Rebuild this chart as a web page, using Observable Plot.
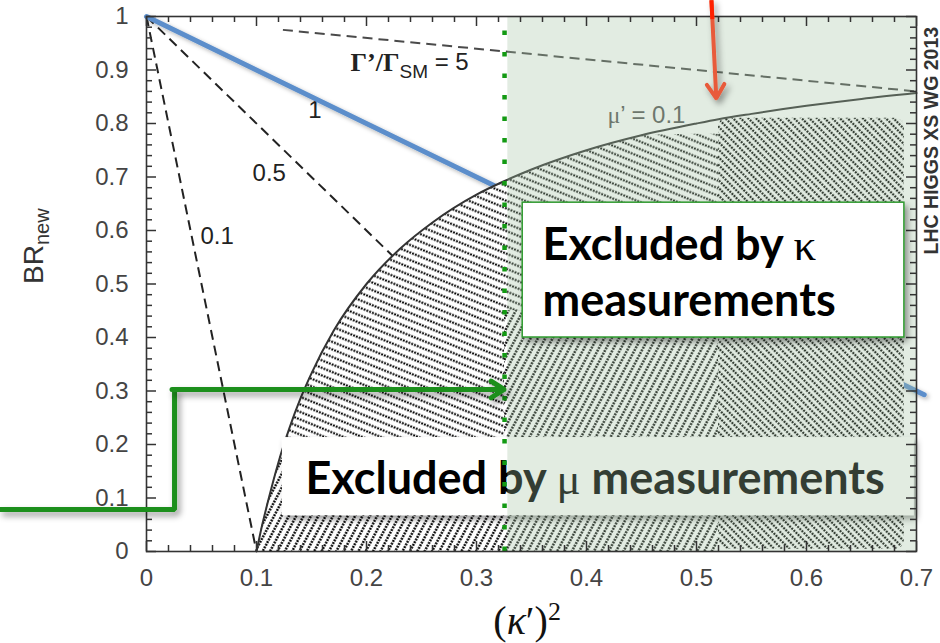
<!DOCTYPE html>
<html><head><meta charset="utf-8">
<script src="https://cdn.jsdelivr.net/npm/d3@7"></script>
<script src="https://cdn.jsdelivr.net/npm/@observablehq/plot@0.6"></script>
<style>body{margin:0;background:#fff} #chart svg{display:block}</style>
</head><body><div id="chart"></div>
<script>
// ---- data ----
const xTicks = [0, 0.1, 0.2, 0.3, 0.4, 0.5, 0.6, 0.7];
const xTickLabels = ["0", "0.1", "0.2", "0.3", "0.4", "0.5", "0.6", "0.7"];
const yTicks = [0, 0.1, 0.2, 0.3, 0.4, 0.5, 0.6, 0.7, 0.8, 0.9, 1];
const yTickLabels = ["0", "0.1", "0.2", "0.3", "0.4", "0.5", "0.6", "0.7", "0.8", "0.9", "1"];

// mu' = 0.1 contour: (kappa'^2, BR_new)
const muCurveX = [0.1, 0.105, 0.11, 0.12, 0.13, 0.14, 0.15, 0.17, 0.2, 0.23, 0.26, 0.3, 0.325, 0.35, 0.4, 0.45, 0.5, 0.52, 0.55, 0.6, 0.65, 0.7];
const muCurveY = [0, 0.048, 0.09, 0.167, 0.231, 0.286, 0.333, 0.412, 0.5, 0.565, 0.615, 0.667, 0.692, 0.714, 0.75, 0.778, 0.8, 0.808, 0.818, 0.833, 0.846, 0.857];

// Gamma'/Gamma_SM dashed lines (start / end points)
const gammaNames = ["0.1", "0.5", "1", "5"];
const gammaX1 = [0, 0, 0, 0.124];
const gammaY1 = [1, 1, 1, 0.975];
const gammaX2 = [0.1, 0.225, 0.32, 0.7];
const gammaY2 = [0, 0.55, 0.68, 0.86];

// highlighted (blue) line
const blueX = [0, 0.707];
const blueY = [1, 0.293];

// kappa exclusion boundary
const kappaLimit = 0.3255;

// annotation anchors in data units
const gammaLabelX = [0.049, 0.0964, 0.147, 0.1855];
const gammaLabelY = [0.59, 0.7065, 0.824, 0.912];
const kBox = {x1: 0.342, x2: 0.689, y1: 0.4, y2: 0.652};
const mBox = {x1: 0.1236, x2: 0.698, y1: 0.067, y2: 0.213};
const greenArrowX = [-0.134, 0.0255, 0.0255];
const greenArrowY = [0.0785, 0.0785, 0.303];
const greenArrowTip = [0.325, 0.303];
const redArrow = {x1: 0.5136, y1: 1.03, x2: 0.518, y2: 0.847};

// ---- derived tables ----
const curve = muCurveX.map((x, i) => ({x, y: muCurveY[i]}));
const gammaLines = gammaNames.map((r, i) => ({r, x1: gammaX1[i], y1: gammaY1[i], x2: gammaX2[i], y2: gammaY2[i]}));
const gammaLabels = gammaNames.map((r, i) => ({r, x: gammaLabelX[i], y: gammaLabelY[i]}));
const hatchS = curve.filter(d => d.x <= 0.52).map(d => ({x: d.x, y1: Math.min(d.y, 0.2), y2: Math.min(d.y, 0.78)}));
const hatchT = curve.filter(d => d.x <= 0.52).map(d => ({x: d.x, y1: 0, y2: Math.min(d.y, 0.2)}));
const blue = blueX.map((x, i) => ({x, y: blueY[i]}));
const gArrow = greenArrowX.map((x, i) => ({x, y: greenArrowY[i]}));

const xMinor = d3.range(0, 0.7001, 0.02);
const yMinor = d3.range(0, 1.0001, 0.02);
const pxY = 1 / 535, pxX = 0.7 / 770;
const isMajor = d => Math.abs(d * 10 - Math.round(d * 10)) < 1e-6;
const BOLD = "Lato, 'Open Sans', sans-serif";
const BOXFONT = 45;

const plot = Plot.plot({
  width: 940, height: 643,
  marginLeft: 146, marginRight: 24, marginTop: 16, marginBottom: 92,
  x: {domain: [0, 0.7], axis: null},
  y: {domain: [0, 1], axis: null},
  style: {fontFamily: "'Liberation Sans', Arial, sans-serif", background: "white", overflow: "visible"},
  marks: [
    // dashed Gamma lines
    Plot.link(gammaLines, {x1: "x1", y1: "y1", x2: "x2", y2: "y2", stroke: d => d.r === "5" ? "#4a4a4a" : "#222", strokeWidth: 2, strokeDasharray: "10,6"}),
    Plot.text(gammaLabels, {x: "x", y: "y", text: d => d.r === "5" ? "§G" : d.r, textAnchor: "start", fontSize: 24, fill: "#222"}),
    // blue line
    Plot.line(blue, {x: "x", y: "y", stroke: "#5b8ecb", strokeWidth: 5}),
    // hatched areas
    Plot.areaY(hatchS, {x: "x", y1: "y1", y2: "y2", fill: "url(#hatchS)", curve: "linear"}),
    Plot.areaY(hatchT, {x: "x", y1: "y1", y2: "y2", fill: "url(#hatchT)", curve: "linear"}),
    Plot.rect([{x1: kappaLimit, x2: 0.52, y1: 0.2, y2: 0.45}], {x1: "x1", x2: "x2", y1: "y1", y2: "y2", fill: "url(#hatchT)"}),
    Plot.rect([{x1: 0.52, x2: 0.689, y1: 0.004, y2: 0.81}], {x1: "x1", x2: "x2", y1: "y1", y2: "y2", fill: "url(#hatchD)", rx: 9}),
    // mu' = 0.1 curve
    Plot.line(curve, {x: "x", y: "y", stroke: "#333", strokeWidth: 2, curve: "monotone-x"}),
    Plot.text([{x: 0.419, y: 0.815}], {x: "x", y: "y", text: () => "§MU", textAnchor: "start", fontSize: 24, fill: "#555"}),
    // mu box
    Plot.rect([mBox], {x1: "x1", x2: "x2", y1: "y1", y2: "y2", fill: "#fffffe"}),
    Plot.text([{x: 0.1445, y: 0.1353}], {x: "x", y: "y", text: () => "§MT", textAnchor: "start", fontSize: BOXFONT, fontWeight: "bold", fontFamily: BOLD, fill: "#000"}),
    // green translucent kappa exclusion region
    Plot.rect([{x1: kappaLimit + 0.003, x2: 0.7, y1: 0, y2: 1}], {x1: "x1", x2: "x2", y1: "y1", y2: "y2", fill: "rgb(162,194,162)", fillOpacity: 0.314}),
    Plot.ruleX([kappaLimit], {x: d => d, y1: 0, y2: 1, stroke: "#139a13", strokeWidth: 4.5, strokeDasharray: "4.5,17"}),
    // frame + ticks
    Plot.frame({stroke: "#333", strokeWidth: 1.6}),
    Plot.ruleX(xMinor, {x: d => d, y1: 0, y2: d => (isMajor(d) ? 10 : 6) * pxY, stroke: "#333", strokeWidth: 1.5}),
    Plot.ruleX(xMinor, {x: d => d, y1: 1, y2: d => 1 - (isMajor(d) ? 10 : 6) * pxY, stroke: "#333", strokeWidth: 1.5}),
    Plot.ruleY(yMinor, {y: d => d, x1: 0, x2: d => (isMajor(d) ? 10 : 6) * pxX, stroke: "#333", strokeWidth: 1.5}),
    Plot.ruleY(yMinor, {y: d => d, x1: 0.7, x2: d => 0.7 - (isMajor(d) ? 10 : 6) * pxX, stroke: "#333", strokeWidth: 1.5}),
    // tick labels
    Plot.text(xTicks, {x: d => d, y: 0, dy: 17, lineAnchor: "top", text: (d, i) => xTickLabels[i], fontSize: 24, fill: "#444"}),
    Plot.text(yTicks, {x: 0, y: d => d, dx: -18, textAnchor: "end", text: (d, i) => yTickLabels[i], fontSize: 24, fill: "#444"}),
    // axis titles
    Plot.text([0], {frameAnchor: "left", dx: -112, rotate: -90, text: () => "§Y", fontSize: 28, fill: "#333"}),
    Plot.text([0], {x: 0.346, y: 0, dy: 70, text: () => "§X", fontSize: 40, fontFamily: "'Liberation Serif', serif", fill: "#111"}),
    Plot.text([0], {x: 0.7, y: 0.768, dx: 15, rotate: -90, text: () => "LHC HIGGS XS WG 2013", fontSize: 19.5, fontWeight: "bold", fill: "#333"}),
    // kappa box
    Plot.rect([kBox], {x1: "x1", x2: "x2", y1: "y1", y2: "y2", fill: "white", stroke: "#2f9a2f", strokeWidth: 1.5}),
    Plot.text([{x: 0.36, y: 0.571}], {x: "x", y: "y", text: () => "§KT", textAnchor: "start", fontSize: BOXFONT, fontWeight: "bold", fontFamily: BOLD, fill: "#000"}),
    Plot.text([{x: 0.36, y: 0.468}], {x: "x", y: "y", text: () => "measurements", textAnchor: "start", fontSize: BOXFONT, fontWeight: "bold", fontFamily: BOLD, fill: "#000"}),
    // green arrow
    Plot.line(gArrow, {x: "x", y: "y", stroke: "#1a8f1a", strokeWidth: 5, strokeLinejoin: "miter", strokeLinecap: "butt"}),
    Plot.arrow([0], {x1: greenArrowX[2] - 0.0023, y1: greenArrowTip[1], x2: greenArrowTip[0], y2: greenArrowTip[1], stroke: "#1a8f1b", strokeWidth: 5, headLength: 4.6, headAngle: 66}),
    // red arrow
    Plot.arrow([0], {x1: redArrow.x1, y1: redArrow.y1, x2: redArrow.x2, y2: redArrow.y2, stroke: "#e85a3a", strokeWidth: 4, headLength: 6.2, headAngle: 64}),
    Plot.link([0], {x1: redArrow.x1, y1: redArrow.y1, x2: redArrow.x1 + 0.0008, y2: 0.995, stroke: "#ff2000", strokeWidth: 4})
  ]
});

document.getElementById("chart").appendChild(plot);

// ---- defs: hatch patterns and shadow ----
const svg = d3.select(plot);
const defs = svg.insert("defs", ":first-child");
function hatch(id, angle, spacing) {
  const p = defs.append("pattern").attr("id", id).attr("patternUnits", "userSpaceOnUse")
    .attr("width", 12).attr("height", spacing).attr("patternTransform", `rotate(${angle})`);
  p.append("rect").attr("width", 12).attr("height", spacing).attr("fill", "white");
  p.append("line").attr("x1", 0).attr("x2", 12).attr("y1", spacing / 2).attr("y2", spacing / 2)
    .attr("stroke", "#000").attr("stroke-width", 2.1).attr("stroke-dasharray", "2 1");
}
hatch("hatchS", 22, 7);
hatch("hatchT", -62, 6.5);
hatch("hatchD", 45, 5.4);
function shadow(id, dx, dy, sd, op) {
  const f = defs.append("filter").attr("id", id).attr("filterUnits", "userSpaceOnUse")
    .attr("x", -20).attr("y", -20).attr("width", 980).attr("height", 683);
  f.append("feDropShadow").attr("dx", dx).attr("dy", dy).attr("stdDeviation", sd)
    .attr("flood-color", "#000").attr("flood-opacity", op);
}
shadow("shadow", 3, 4, 3, 0.4);
shadow("shadow2", 2, 2, 2, 0.3);

svg.selectAll('g[fill="white"][stroke="#2f9a2f"], g[fill="#fffffe"], g[stroke="#1a8f1a"], g[stroke="#1a8f1b"], g[stroke="#e85a3a"]').attr("filter", "url(#shadow)");
svg.selectAll('g[stroke="#5b8ecb"]').attr("filter", "url(#shadow2)");

// ---- rich text ----
const SER = "'Liberation Serif', 'DejaVu Serif', serif";
const rich = {
  "§Y": `BR<tspan dy="0.3em" font-size="20">new</tspan>`,
  "§G": `<tspan font-family="${SER}" font-weight="bold" font-size="26">Γ’/Γ</tspan><tspan font-size="19" dy="0.35em">SM</tspan><tspan dy="-0.35em"> = 5</tspan>`,
  "§MU": `<tspan font-family="${SER}">μ</tspan>’ = 0.1`,
  "§X": `(<tspan font-style="italic">κ</tspan>′)<tspan font-size="26" dy="-0.55em">2</tspan>`,
  "§KT": `Excluded by <tspan font-family="${SER}" font-weight="normal">κ</tspan>`,
  "§MT": `Excluded by <tspan font-family="${SER}" font-weight="normal">μ</tspan> measurements`
};
svg.selectAll("text").each(function () {
  const t = this.textContent;
  if (rich[t]) this.innerHTML = rich[t];
});
</script>
</body></html>
